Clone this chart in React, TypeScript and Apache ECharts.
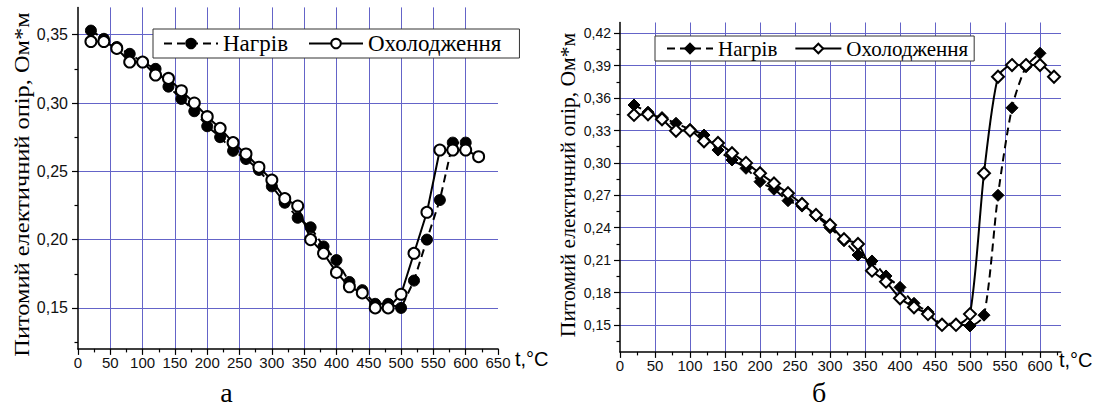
import React, { useEffect, useRef } from "react";
import * as echarts from "echarts";

// ---------- data: panel "а" (circles) ----------
const T_HEAT_A = [20, 40, 60, 80, 100, 120, 140, 160, 180, 200, 220, 240, 260, 280, 300, 320, 340, 360, 380, 400, 420, 440, 460, 480, 500, 520, 540, 560, 580, 600];
const HEAT_A = [0.353, 0.347, 0.341, 0.336, 0.330, 0.325, 0.312, 0.303, 0.294, 0.283, 0.275, 0.265, 0.259, 0.251, 0.239, 0.227, 0.216, 0.209, 0.195, 0.185, 0.169, 0.163, 0.153, 0.153, 0.150, 0.170, 0.200, 0.229, 0.271, 0.271];
const T_COOL_A = [20, 40, 60, 80, 100, 120, 140, 160, 180, 200, 220, 240, 260, 280, 300, 320, 340, 360, 380, 400, 420, 440, 460, 480, 500, 520, 540, 560, 580, 600, 620];
const COOL_A = [0.345, 0.345, 0.340, 0.330, 0.330, 0.3205, 0.318, 0.309, 0.300, 0.290, 0.2815, 0.271, 0.2627, 0.253, 0.2436, 0.230, 0.2246, 0.200, 0.190, 0.176, 0.1655, 0.161, 0.150, 0.150, 0.160, 0.190, 0.220, 0.2656, 0.2656, 0.2656, 0.2607];

// ---------- data: panel "б" (diamonds) ----------
const T_HEAT_B = [20, 40, 60, 80, 100, 120, 140, 160, 180, 200, 220, 240, 260, 280, 300, 320, 340, 360, 380, 400, 420, 440, 460, 480, 500, 520, 540, 560, 580, 600];
const HEAT_B = [0.3536, 0.347, 0.342, 0.3367, 0.331, 0.3258, 0.3119, 0.3027, 0.295, 0.2826, 0.2756, 0.265, 0.260, 0.251, 0.240, 0.228, 0.2147, 0.2092, 0.1953, 0.1848, 0.170, 0.162, 0.151, 0.151, 0.149, 0.159, 0.270, 0.351, 0.389, 0.4015];
const T_COOL_B = [20, 40, 60, 80, 100, 120, 140, 160, 180, 200, 220, 240, 260, 280, 300, 320, 340, 360, 380, 400, 420, 440, 460, 480, 500, 520, 540, 560, 580, 600, 620];
const COOL_B = [0.3444, 0.345, 0.3404, 0.3298, 0.330, 0.320, 0.3185, 0.309, 0.300, 0.2904, 0.281, 0.2719, 0.262, 0.2518, 0.2425, 0.2293, 0.2249, 0.2002, 0.190, 0.1746, 0.1663, 0.160, 0.150, 0.150, 0.160, 0.2904, 0.3798, 0.3906, 0.3906, 0.3906, 0.3798];

// ---------- tick values ----------
const X_MAJOR_A = [0, 50, 100, 150, 200, 250, 300, 350, 400, 450, 500, 550, 600, 650];
const X_MINOR_A = [25, 75, 125, 175, 225, 275, 325, 375, 425, 475, 525, 575, 625];
const Y_MAJOR_A = [0.15, 0.2, 0.25, 0.3, 0.35];
const Y_MINOR_A = [0.125, 0.175, 0.225, 0.275, 0.325];

const X_MAJOR_B = [0, 50, 100, 150, 200, 250, 300, 350, 400, 450, 500, 550, 600];
const X_MINOR_B = [25, 75, 125, 175, 225, 275, 325, 375, 425, 475, 525, 575, 625];
const Y_MAJOR_B = [0.15, 0.18, 0.21, 0.24, 0.27, 0.3, 0.33, 0.36, 0.39, 0.42];
const Y_MINOR_B = [0.135, 0.165, 0.195, 0.225, 0.255, 0.285, 0.315, 0.345, 0.375, 0.405];

const NAME_HEAT = "Нагрів";
const NAME_COOL = "Охолодження";
const Y_TITLE = "Питомий електичний опір, Ом*м";
const X_TITLE = "t,°C";

const SANS = "'Liberation Sans', Arial, sans-serif";
const SERIF = "'Liberation Serif', 'Times New Roman', serif";
const GRID_COLOR = "#6464c8";

const zip = (xs: number[], ys: number[]) => xs.map((x, i) => [x, ys[i]]);
const fmt = (v: number) => v.toFixed(2).replace(".", ",");

function makeOption(cfg: any) {
  const axisLineStyle = { color: "#000", width: 1.5 };
  const tickStyle = { color: "#000", width: 1.2 };
  return {
    animation: false,
    grid: { ...cfg.grid, containLabel: false },
    xAxis: [
      {
        type: "value",
        min: cfg.xMin,
        max: cfg.xMax,
        position: "bottom",
        axisLine: { show: true, onZero: false, lineStyle: axisLineStyle },
        axisTick: { show: true, inside: false, length: 6, customValues: cfg.xMajor, lineStyle: tickStyle },
        axisLabel: {
          customValues: cfg.xMajor,
          margin: 6,
          fontSize: 15,
          fontFamily: SANS,
          color: "#111",
          formatter: (v: number) => String(v),
        },
        splitLine: { show: true, showMinLine: false, showMaxLine: cfg.showMaxX, lineStyle: { color: GRID_COLOR, width: 1 } },
      },
      {
        type: "value",
        min: cfg.xMin,
        max: cfg.xMax,
        position: "bottom",
        offset: 0,
        axisLine: { show: false },
        axisTick: { show: true, inside: false, length: 3.5, customValues: cfg.xMinor, lineStyle: tickStyle },
        axisLabel: { show: false },
        splitLine: { show: false },
      },
    ],
    yAxis: [
      {
        type: "value",
        min: cfg.yMin,
        max: cfg.yMax,
        position: "left",
        axisLine: { show: true, onZero: false, lineStyle: axisLineStyle },
        axisTick: { show: true, inside: false, length: 6, customValues: cfg.yMajor, lineStyle: tickStyle },
        axisLabel: {
          customValues: cfg.yMajor,
          margin: cfg.yLabelMargin,
          fontSize: cfg.yLabelSize,
          fontFamily: SANS,
          color: "#111",
          formatter: (v: number) => fmt(v),
        },
        splitLine: { show: true, lineStyle: { color: GRID_COLOR, width: 1 } },
      },
      {
        type: "value",
        min: cfg.yMin,
        max: cfg.yMax,
        position: "left",
        offset: 0,
        axisLine: { show: false },
        axisTick: { show: true, inside: false, length: 3.5, customValues: cfg.yMinor, lineStyle: tickStyle },
        axisLabel: { show: false },
        splitLine: { show: false },
      },
    ],
    legend: {
      data: [NAME_HEAT, NAME_COOL],
      ...cfg.legend,
      orient: "horizontal",
      borderColor: "#333",
      borderWidth: 1,
      backgroundColor: "#fff",
      textStyle: { fontFamily: SERIF, fontSize: cfg.legendFont, color: "#000" },
    },
    series: [
      {
        name: NAME_HEAT,
        type: "line",
        xAxisIndex: 0,
        yAxisIndex: 0,
        data: zip(cfg.tHeat, cfg.heat),
        smooth: cfg.smooth,
        symbol: cfg.symbol,
        symbolSize: cfg.symbolSize,
        showAllSymbol: true,
        lineStyle: { color: "#000", width: 2, type: [8, 5] },
        itemStyle: { color: "#000", borderColor: "#000", borderWidth: 1 },
        z: 3,
      },
      {
        name: NAME_COOL,
        type: "line",
        xAxisIndex: 0,
        yAxisIndex: 0,
        data: zip(cfg.tCool, cfg.cool),
        smooth: cfg.smooth,
        symbol: cfg.symbol,
        symbolSize: cfg.symbolSize,
        showAllSymbol: true,
        lineStyle: { color: "#000", width: 2, type: "solid" },
        itemStyle: { color: "#fff", borderColor: "#000", borderWidth: 2 },
        z: 4,
      },
    ],
    graphic: cfg.graphic,
  };
}

const optionA = makeOption({
  grid: { left: 78, top: 7.4, width: 420, height: 341.5 },
  xMin: 0,
  xMax: 650,
  yMin: 0.12,
  yMax: 0.37,
  xMajor: X_MAJOR_A,
  xMinor: X_MINOR_A,
  yMajor: Y_MAJOR_A,
  yMinor: Y_MINOR_A,
  showMaxX: false,
  yLabelMargin: 10,
  yLabelSize: 16,
  tHeat: T_HEAT_A,
  heat: HEAT_A,
  tCool: T_COOL_A,
  cool: COOL_A,
  smooth: false,
  symbol: "circle",
  symbolSize: 11,
  legendFont: 23,
  legend: { left: 153, top: 29, padding: [3, 18, 3, 10], itemGap: 20, itemWidth: 54, itemHeight: 12 },
  graphic: [
    {
      type: "text",
      x: 21,
      y: 184.5,
      rotation: Math.PI / 2,
      scaleX: 1.11,
      style: { text: Y_TITLE, fontSize: 22, fontFamily: SERIF, fill: "#000", align: "center", verticalAlign: "middle" },
    },
    {
      type: "text",
      x: 515,
      y: 359,
      style: { text: X_TITLE, fontSize: 20, fontFamily: SANS, fill: "#000", align: "left", verticalAlign: "middle" },
    },
    {
      type: "text",
      x: 226.5,
      y: 392,
      style: { text: "а", fontSize: 28, fontFamily: SERIF, fill: "#000", align: "center", verticalAlign: "middle" },
    },
  ],
});

const optionB = makeOption({
  grid: { left: 80, top: 22.5, width: 441, height: 329.4 },
  xMin: 0,
  xMax: 630,
  yMin: 0.125,
  yMax: 0.43,
  xMajor: X_MAJOR_B,
  xMinor: X_MINOR_B,
  yMajor: Y_MAJOR_B,
  yMinor: Y_MINOR_B,
  showMaxX: true,
  yLabelMargin: 9,
  yLabelSize: 14,
  tHeat: T_HEAT_B,
  heat: HEAT_B,
  tCool: T_COOL_B,
  cool: COOL_B,
  smooth: 0.25,
  symbol: "diamond",
  symbolSize: 12,
  legendFont: 21,
  legend: { left: 115, top: 36, padding: [2, 6, 2, 11], itemGap: 17, itemWidth: 46, itemHeight: 12 },
  graphic: [
    {
      type: "text",
      x: 28,
      y: 185,
      rotation: Math.PI / 2,
      scaleX: 1.08,
      style: { text: Y_TITLE, fontSize: 20, fontFamily: SERIF, fill: "#000", align: "center", verticalAlign: "middle" },
    },
    {
      type: "text",
      x: 519,
      y: 360,
      style: { text: X_TITLE, fontSize: 20, fontFamily: SANS, fill: "#000", align: "left", verticalAlign: "middle" },
    },
    {
      type: "text",
      x: 279,
      y: 392,
      style: { text: "б", fontSize: 28, fontFamily: SERIF, fill: "#000", align: "center", verticalAlign: "middle" },
    },
  ],
});

function Panel({ option, left, width }: { option: any; left: number; width: number }) {
  const ref = useRef<HTMLDivElement>(null);
  useEffect(() => {
    if (!ref.current) return;
    const chart = echarts.init(ref.current, undefined, { renderer: "svg" });
    chart.setOption(option);
    return () => chart.dispose();
  }, [option]);
  return <div ref={ref} style={{ position: "absolute", left, top: 0, width, height: 412 }} />;
}

export default function App() {
  return (
    <div style={{ position: "fixed", left: 0, top: 0, width: 1096, height: 412, background: "#fff", overflow: "hidden" }}>
      <Panel option={optionA} left={0} width={560} />
      <Panel option={optionB} left={540} width={556} />
    </div>
  );
}
